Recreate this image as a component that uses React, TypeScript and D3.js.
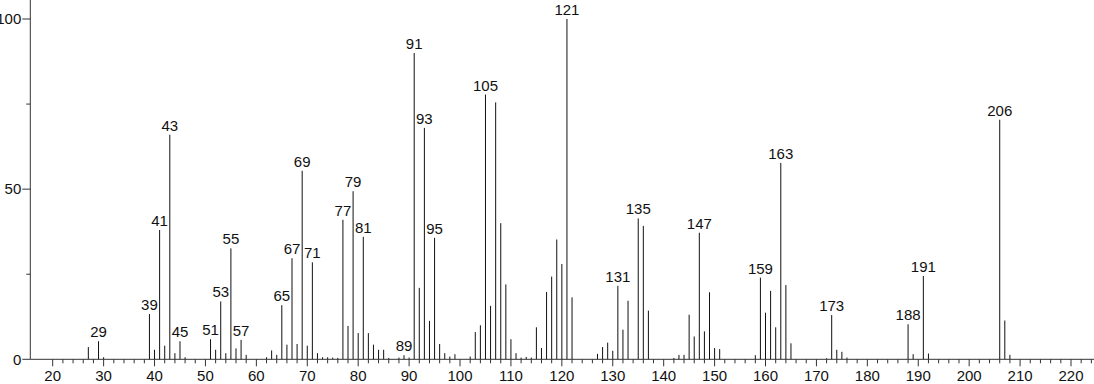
import React from "react";
import * as d3 from "d3";

const mz = [27, 29, 30, 39, 40, 41, 42, 43, 44, 45, 46,
  51, 52, 53, 54, 55, 56, 57, 58,
  62, 63, 64, 65, 66, 67, 68, 69, 70, 71, 72, 73, 74, 75, 76,
  77, 78, 79, 80, 81, 82, 83, 84, 85, 86, 88, 89, 90,
  91, 92, 93, 94, 95, 96, 97, 98, 99, 102, 103, 104, 105, 106, 107, 108, 109, 110, 111, 112, 113, 114, 115, 116, 117, 118, 119, 120, 121, 122,
  127, 128, 129, 130, 131, 132, 133, 135, 136, 137,
  142, 143, 144, 145, 146, 147, 148, 149, 150, 151,
  158, 159, 160, 161, 162, 163, 164, 165,
  172, 173, 174, 175, 176,
  188, 189, 191, 192, 206, 207, 208];

const intensity = [3.6, 5.3, 0.6, 13.3, 2.8, 38, 4, 66, 1.8, 5.3, 0.6,
  5.9, 2.8, 17, 1.8, 32.6, 3.2, 5.7, 1.3,
  0.6, 2.6, 1.3, 15.9, 4.3, 29.7, 4.5, 55.4, 4, 28.5, 1.8, 0.6, 0.6, 0.5, 0.4,
  41, 9.8, 49.4, 7.7, 36, 7.7, 4.3, 2.8, 2.8, 0.4, 0.5, 1.2, 0.5,
  90, 21, 68, 11.3, 35.7, 4.5, 1.8, 0.8, 1.5, 0.8, 8, 10, 77.8, 15.7, 75.5, 40, 22, 5.9, 1.8, 0.5, 0.7, 0.5, 9.4, 3.3, 19.8, 24.3, 35.2, 28, 100, 18.2,
  1.6, 3.6, 4.9, 2.5, 21.6, 8.7, 17.2, 41.4, 39.2, 14.3,
  0.4, 1.3, 1.3, 13.1, 6.7, 37.2, 8.2, 19.7, 3.3, 3,
  1.2, 24, 13.7, 20.1, 9.4, 57.7, 21.8, 4.7,
  0.3, 13, 2.8, 2.2, 0.5,
  10.3, 1.5, 24.5, 1.7, 70.4, 11.4, 1.3];

const labeledPeaks = [29, 39, 41, 43, 45, 51, 53, 55, 57, 65, 67, 69, 71, 77, 79, 81, 89, 91, 93, 95, 105, 121, 131, 135, 147, 159, 163, 173, 188, 191, 206];

const xMajorTicks = d3.range(20, 221, 10);
const xMinorTicks = d3.range(20, 225, 2);
const yMajorTicks = [0, 50, 100];
const yMinorTicks = [25, 75];

const W = 1094;
const H = 384;
const axisX = 30.3;
const baseY = 359.3;

export default function App() {
  const x = d3.scaleLinear().domain([20, 220]).range([52.7, 1071]);
  const y = d3.scaleLinear().domain([0, 100]).range([baseY, 19]);
  const font = "'Liberation Sans', Arial, Helvetica, sans-serif";
  const data = mz.map((m, i) => ({ m, v: intensity[i] }));

  return (
    <svg
      width={W}
      height={H}
      style={{ position: "absolute", left: 0, top: 0, background: "#fff" }}
      fontFamily={font}
      fontSize={15}
    >
      <rect x={0} y={0} width={W} height={H} fill="#fff" />
      {data.map((d) => (
        <line key={d.m} x1={x(d.m)} x2={x(d.m)} y1={baseY} y2={y(d.v)} stroke="#111" strokeWidth={1} />
      ))}
      {data
        .filter((d) => labeledPeaks.includes(d.m))
        .map((d) => (
          <text key={"l" + d.m} x={x(d.m)} y={y(d.v) - 4} textAnchor="middle" fill="#111">
            {d.m}
          </text>
        ))}
      <line x1={axisX} x2={axisX} y1={0} y2={baseY} stroke="#333" strokeWidth={1} />
      <line x1={axisX} x2={W} y1={baseY} y2={baseY} stroke="#333" strokeWidth={1} />
      {xMinorTicks.map((t) => (
        <line key={"xm" + t} x1={x(t)} x2={x(t)} y1={baseY} y2={baseY + (t % 10 === 0 ? 7 : 4)} stroke="#333" strokeWidth={1} />
      ))}
      {xMajorTicks.map((t) => (
        <text key={"xl" + t} x={x(t)} y={381} textAnchor="middle" fill="#111">
          {t}
        </text>
      ))}
      {yMajorTicks.map((t) => (
        <g key={"y" + t}>
          <line x1={axisX - 8} x2={axisX} y1={y(t)} y2={y(t)} stroke="#333" strokeWidth={1} />
          <text x={axisX - 9} y={y(t) + 5.3} textAnchor="end" fill="#111">
            {t}
          </text>
        </g>
      ))}
      {yMinorTicks.map((t) => (
        <line key={"ym" + t} x1={axisX - 4} x2={axisX} y1={y(t)} y2={y(t)} stroke="#333" strokeWidth={1} />
      ))}
    </svg>
  );
}
